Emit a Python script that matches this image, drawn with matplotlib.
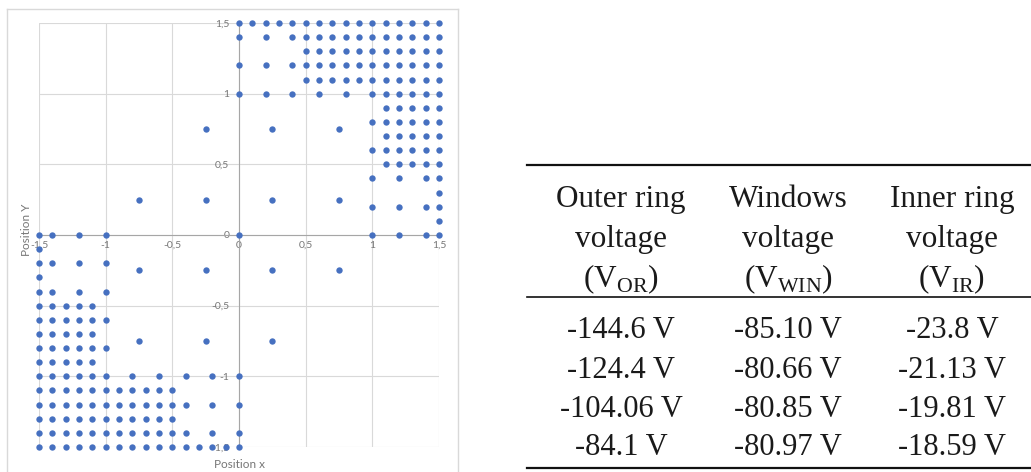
import matplotlib
matplotlib.use("Agg")
import matplotlib.pyplot as plt
from matplotlib.lines import Line2D
from matplotlib.ticker import FuncFormatter

# grid points, one row per y value
row_y = [1.5, 1.4, 1.3, 1.2, 1.1, 1.0, 0.9, 0.8, 0.7, 0.6, 0.5, 0.4, 0.3, 0.2, 0.1, 0.0,
         -0.1, -0.2, -0.3, -0.4, -0.5, -0.6, -0.7, -0.8, -0.9, -1.0, -1.1, -1.2, -1.3, -1.4, -1.5]
row_x = [
    [0, 0.1, 0.2, 0.3, 0.4, 0.5, 0.6, 0.7, 0.8, 0.9, 1.0, 1.1, 1.2, 1.3, 1.4, 1.5],
    [0, 0.2, 0.4, 0.5, 0.6, 0.7, 0.8, 0.9, 1.0, 1.1, 1.2, 1.3, 1.4, 1.5],
    [0.5, 0.6, 0.7, 0.8, 0.9, 1.0, 1.1, 1.2, 1.3, 1.4, 1.5],
    [0, 0.2, 0.4, 0.5, 0.6, 0.7, 0.8, 0.9, 1.0, 1.1, 1.2, 1.3, 1.4, 1.5],
    [0.5, 0.6, 0.7, 0.8, 0.9, 1.0, 1.1, 1.2, 1.3, 1.4, 1.5],
    [0, 0.2, 0.4, 0.6, 0.8, 1.0, 1.1, 1.2, 1.3, 1.4, 1.5],
    [1.1, 1.2, 1.3, 1.4, 1.5],
    [1.0, 1.1, 1.2, 1.3, 1.4, 1.5],
    [1.1, 1.2, 1.3, 1.4, 1.5],
    [1.0, 1.1, 1.2, 1.3, 1.4, 1.5],
    [1.1, 1.2, 1.3, 1.4, 1.5],
    [1.0, 1.2, 1.4, 1.5],
    [1.5],
    [1.0, 1.2, 1.4, 1.5],
    [1.5],
    [-1.5, -1.4, -1.2, -1.0, 0, 1.0, 1.2, 1.4, 1.5],
    [-1.5],
    [-1.5, -1.4, -1.2, -1.0],
    [-1.5],
    [-1.5, -1.4, -1.2, -1.0],
    [-1.5, -1.4, -1.3, -1.2, -1.1],
    [-1.5, -1.4, -1.3, -1.2, -1.1, -1.0],
    [-1.5, -1.4, -1.3, -1.2, -1.1],
    [-1.5, -1.4, -1.3, -1.2, -1.1, -1.0],
    [-1.5, -1.4, -1.3, -1.2, -1.1],
    [-1.5, -1.4, -1.3, -1.2, -1.1, -1.0, -0.8, -0.6, -0.4, -0.2, 0],
    [-1.5, -1.4, -1.3, -1.2, -1.1, -1.0, -0.9, -0.8, -0.7, -0.6, -0.5],
    [-1.5, -1.4, -1.3, -1.2, -1.1, -1.0, -0.9, -0.8, -0.7, -0.6, -0.5, -0.4, -0.2, 0],
    [-1.5, -1.4, -1.3, -1.2, -1.1, -1.0, -0.9, -0.8, -0.7, -0.6, -0.5],
    [-1.5, -1.4, -1.3, -1.2, -1.1, -1.0, -0.9, -0.8, -0.7, -0.6, -0.5, -0.4, -0.2, 0],
    [-1.5, -1.4, -1.3, -1.2, -1.1, -1.0, -0.9, -0.8, -0.7, -0.6, -0.5, -0.4, -0.3, -0.2, -0.1, 0],
]
# loose points in the middle
mid_x = [-0.25, -0.75, -0.25, 0.25, 0.75, 0.25, 0.75, -0.75, -0.25, -0.75, -0.25, 0.25, 0.75, 0.25]
mid_y = [0.75, 0.25, 0.25, 0.75, 0.75, 0.25, 0.25, -0.25, -0.25, -0.75, -0.75, -0.25, -0.25, -0.75]

ticks = [-1.5, -1, -0.5, 0, 0.5, 1, 1.5]

# table
col_heads = [["Outer ring", "voltage", "(V$_{\\mathrm{OR}}$)"],
             ["Windows", "voltage", "(V$_{\\mathrm{WIN}}$)"],
             ["Inner ring", "voltage", "(V$_{\\mathrm{IR}}$)"]]
v_or = ["-144.6 V", "-124.4 V", "-104.06 V", "-84.1 V"]
v_win = ["-85.10 V", "-80.66 V", "-80.85 V", "-80.97 V"]
v_ir = ["-23.8 V", "-21.13 V", "-19.81 V", "-18.59 V"]

plt.rcParams['mathtext.fontset'] = 'custom'
plt.rcParams['mathtext.rm'] = 'Liberation Serif'

W, H = 1031, 472
fig = plt.figure(figsize=(W / 100, H / 100), dpi=100)

def fx(px):
    return px / W

def fy(py):
    return 1 - py / H

# chart frame (cut off at the bottom)
frame_c = "#d9d9d9"
fig.add_artist(Line2D([fx(7), fx(7)], [fy(9), 0], color=frame_c, lw=1))
fig.add_artist(Line2D([fx(7), fx(458)], [fy(9), fy(9)], color=frame_c, lw=1))
fig.add_artist(Line2D([fx(458), fx(458)], [fy(9), 0], color=frame_c, lw=1))

ax = fig.add_axes([fx(39), fy(447), fx(439) - fx(39), fy(23) - fy(447)])
xs = []
ys = []
for y, row in zip(row_y, row_x):
    for x in row:
        xs.append(x)
        ys.append(y)
xs += mid_x
ys += mid_y
ax.scatter(xs, ys, s=21, color="#4670C0", zorder=3, clip_on=False, linewidths=0)

ax.set_xlim(-1.5, 1.5)
ax.set_ylim(-1.5, 1.5)
ax.set_xticks(ticks)
ax.set_yticks(ticks)
ax.grid(True, color="#d9d9d9", lw=0.8)
ax.set_axisbelow(True)
for s in ["top", "right"]:
    ax.spines[s].set_visible(False)
ax.spines["left"].set_position(("data", 0))
ax.spines["bottom"].set_position(("data", 0))
ax.spines["left"].set_color("#a6a6a6")
ax.spines["bottom"].set_color("#a6a6a6")
ax.spines["left"].set_zorder(2)
ax.spines["bottom"].set_zorder(2)
fmt = FuncFormatter(lambda v, p: ("%g" % v).replace(".", ","))
ax.xaxis.set_major_formatter(fmt)
ax.yaxis.set_major_formatter(fmt)
ax.tick_params(axis="both", length=0, labelsize=7.5, labelcolor="#767676")
ax.tick_params(axis="y", pad=7)
ax.tick_params(axis="x", pad=4)
for lab in ax.get_xticklabels() + ax.get_yticklabels():
    lab.set_fontfamily("Lato")

fig.text(fx(26), fy(230), "Position Y", rotation=90, ha="center", va="center",
         fontsize=8.5, color="#767676", family="Lato")
fig.text(fx(239), fy(465), "Position x", ha="center", va="center",
         fontsize=8.5, color="#767676", family="Lato")

# table on the right
serif = "Liberation Serif"
tcol = "#1a1a1a"
fig.add_artist(Line2D([fx(527), 1], [fy(165), fy(165)], color="#111111", lw=1.6))
fig.add_artist(Line2D([fx(527), 1], [fy(297), fy(297)], color="#111111", lw=1.2))
fig.add_artist(Line2D([fx(527), 1], [fy(468), fy(468)], color="#111111", lw=1.6))

col_cx = [621, 788, 952]
head_base = [207, 247, 287]
row_base = [338, 378, 417, 455]
for cx, head, vals in zip(col_cx, col_heads, [v_or, v_win, v_ir]):
    for yb, line in zip(head_base, head):
        fig.text(fx(cx), fy(yb), line, ha="center", va="baseline",
                 fontsize=22.5, family=serif, color=tcol)
    for yb, v in zip(row_base, vals):
        fig.text(fx(cx), fy(yb), v, ha="center", va="baseline",
                 fontsize=22, family=serif, color=tcol)

fig.savefig("out.png", dpi=100)
